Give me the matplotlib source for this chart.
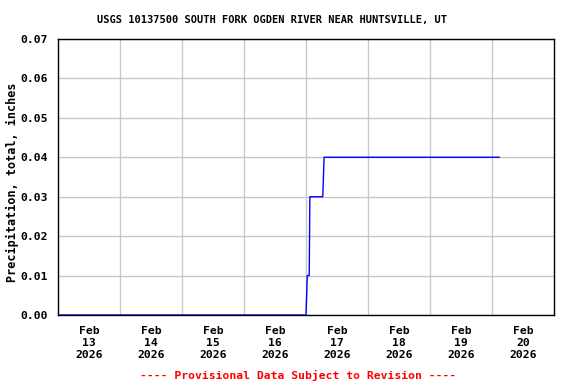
import matplotlib
matplotlib.use("Agg")
import matplotlib.pyplot as plt
import matplotlib.dates as mdates
from datetime import datetime

# Data (vertices of the cumulative precipitation trace)
times = ["2026-02-13 00:00", "2026-02-17 00:00", "2026-02-17 00:30",
         "2026-02-17 01:15", "2026-02-17 01:30", "2026-02-17 06:30",
         "2026-02-17 07:00", "2026-02-20 02:45"]
values = [0.0, 0.0, 0.01, 0.01, 0.03, 0.03, 0.04, 0.04]
tick_days = [13, 14, 15, 16, 17, 18, 19, 20]
tick_labels = [f"Feb\n{d}\n2026" for d in tick_days]
yticks = [0.0, 0.01, 0.02, 0.03, 0.04, 0.05, 0.06, 0.07]

t = [datetime.strptime(s, "%Y-%m-%d %H:%M") for s in times]

plt.rcParams['font.family'] = ['DejaVu Sans Mono']
plt.rcParams['font.weight'] = 'bold'

fig = plt.figure(figsize=(5.76, 3.84), dpi=100)
ax = fig.add_axes([58/576, 1-315/384, 496/576, 276/384])

ax.plot(t, values, color='#0000ff', linewidth=1.0, zorder=3)

ax.set_xlim(datetime(2026, 2, 13), datetime(2026, 2, 21))
ax.set_ylim(0, 0.07)

# grid at midnight, labels at noon
ax.set_xticks([datetime(2026, 2, d) for d in range(14, 21)], minor=False)
ax.set_xticklabels([])
ax.set_xticks([datetime(2026, 2, d, 12) for d in tick_days], minor=True)
ax.set_xticklabels(tick_labels, minor=True, fontsize=8.2, fontweight='bold',
                   linespacing=1.22)
ax.tick_params(axis='x', which='both', length=0, pad=8)
ax.set_yticks(yticks)
ax.set_yticklabels([f"{v:.2f}" for v in yticks], fontsize=8.2, fontweight='bold')
ax.tick_params(axis='y', length=0, pad=7)

ax.grid(True, which='major', color='#c8c8c8', linewidth=1.0)
for s in ax.spines.values():
    s.set_color('black')
    s.set_linewidth(1.0)

fig.text(12/576, 1-182.5/384, "Precipitation, total, inches", rotation=90,
         ha='center', va='center', fontsize=8.5, fontweight='bold')

fig.text(272/576, 1-20/384, "USGS 10137500 SOUTH FORK OGDEN RIVER NEAR HUNTSVILLE, UT",
         ha='center', va='center', fontsize=7.5, fontweight='bold')
fig.text(298/576, 1-375/384, "---- Provisional Data Subject to Revision ----",
         ha='center', va='center', fontsize=8.2, fontweight='bold', color='red')

fig.savefig("out.png", dpi=100)
